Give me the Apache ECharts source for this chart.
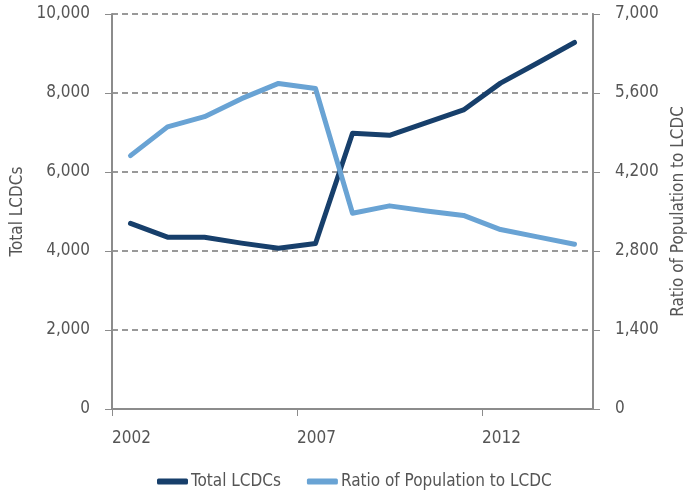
<!DOCTYPE html>
<html lang="en">
<head>
    <meta charset="UTF-8">
    <title>LCDCs</title>
    <style>
        body,html{
            margin: 0;
            background: #fff;
        }
        #chart{
            width: 688px;
            height: 492px;
        }
    </style>
</head>
<body>
<div id="chart"></div>
<script src="https://cdn.jsdelivr.net/npm/echarts@6/dist/echarts.min.js"></script>
<script type="text/javascript">

    // data, one point per year (plotted mid-year)
    const years = [2002, 2003, 2004, 2005, 2006, 2007, 2008, 2009, 2010, 2011, 2012, 2013, 2014];
    const totalLCDCs = [4700, 4350, 4350, 4200, 4070, 4190, 6980, 6930, 7250, 7570, 8250, 8760, 9280];
    const ratioPop = [4490, 5000, 5180, 5500, 5770, 5680, 3470, 3600, 3510, 3430, 3180, 3050, 2920];

    const darkBlue = '#173f6b';
    const lightBlue = '#69a3d4';
    const textGrey = '#555555';
    const axisGrey = '#8c8c8c';
    const fontName = '"DejaVu Sans Condensed", "Liberation Sans Narrow", sans-serif';

    function pairs(vals) {
        return vals.map(function (v, i) { return [years[i] + 0.5, v]; });
    }

    let myChart = echarts.init(document.getElementById('chart'));

    let option = {
        animation: false,
        textStyle: { fontFamily: fontName, color: textGrey },
        grid: { left: 112, right: 95, top: 14, bottom: 83, containLabel: false, outerBoundsMode: 'none' },
        legend: {
            left: 152,
            top: 468,
            icon: 'roundRect',
            itemWidth: 31,
            itemHeight: 6,
            itemGap: 26,
            textStyle: { fontFamily: fontName, fontSize: 17, color: textGrey, padding: [0, 0, 0, -2] },
            data: ['Total LCDCs', 'Ratio of Population to LCDC']
        },
        xAxis: {
            type: 'value',
            min: 2002,
            max: 2015,
            interval: 5,
            axisLine: { show: true, lineStyle: { color: axisGrey, width: 2 } },
            axisTick: { show: true, length: 7, lineStyle: { color: axisGrey } },
            splitLine: { show: false },
            axisLabel: {
                color: textGrey,
                fontFamily: fontName,
                fontSize: 17,
                align: 'left',
                margin: 21,
                showMaxLabel: false,
                formatter: function (v) { return String(v); }
            }
        },
        yAxis: [
            {
                type: 'value',
                min: 0,
                max: 10000,
                interval: 2000,
                name: 'Total LCDCs',
                nameLocation: 'middle',
                nameRotate: 90,
                nameGap: 86,
                nameTextStyle: { color: textGrey, fontFamily: fontName, fontSize: 17 },
                axisLine: { show: true, lineStyle: { color: axisGrey, width: 2 } },
                axisTick: { show: true, length: 7, lineStyle: { color: axisGrey } },
                splitLine: { show: true, lineStyle: { color: '#999', width: 2, type: [6, 4] } },
                axisLabel: {
                    color: textGrey,
                    fontFamily: fontName,
                    fontSize: 17,
                    margin: 22,
                    formatter: function (v) { return v.toLocaleString('en-US'); }
                }
            },
            {
                type: 'value',
                min: 0,
                max: 7000,
                interval: 1400,
                name: 'Ratio of Population to LCDC',
                nameLocation: 'middle',
                nameRotate: 90,
                nameGap: 71,
                nameTextStyle: { color: textGrey, fontFamily: fontName, fontSize: 17 },
                axisLine: { show: true, lineStyle: { color: axisGrey, width: 2 } },
                axisTick: { show: true, length: 7, lineStyle: { color: axisGrey } },
                splitLine: { show: false },
                axisLabel: {
                    color: textGrey,
                    fontFamily: fontName,
                    fontSize: 17,
                    margin: 22,
                    formatter: function (v) { return v.toLocaleString('en-US'); }
                }
            }
        ],
        series: [
            {
                name: 'Total LCDCs',
                type: 'line',
                yAxisIndex: 0,
                data: pairs(totalLCDCs),
                symbol: 'none',
                itemStyle: { color: darkBlue },
                lineStyle: { color: darkBlue, width: 5, cap: 'round', join: 'round' }
            },
            {
                name: 'Ratio of Population to LCDC',
                type: 'line',
                yAxisIndex: 1,
                data: pairs(ratioPop),
                symbol: 'none',
                itemStyle: { color: lightBlue },
                lineStyle: { color: lightBlue, width: 5, cap: 'round', join: 'round' }
            }
        ]
    };
    myChart.setOption(option);
</script>
</body>
</html>
